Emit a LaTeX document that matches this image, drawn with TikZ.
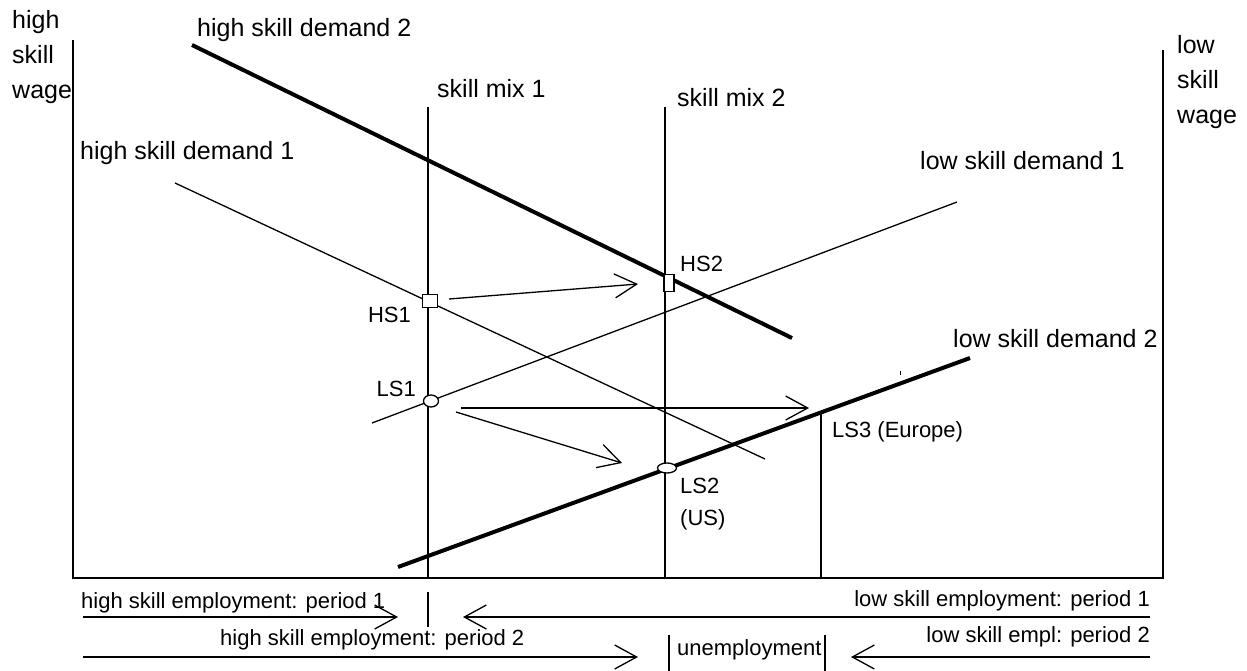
\documentclass[tikz,border=0pt]{standalone}
\usepackage{fontspec}
\setmainfont{Liberation Sans}
\usetikzlibrary{arrows.meta, shapes.geometric}

\begin{document}
\begin{tikzpicture}[x=1pt,y=-1pt,
  every node/.style={inner sep=0pt,anchor=base west,font=\fontsize{25}{35}\selectfont},
  small/.style={font=\fontsize{22}{32}\selectfont},
  axisline/.style={line width=1.5pt},
  thinline/.style={line width=1.3pt},
  thickline/.style={line width=4pt},
  barb/.style={line width=1.3pt,-{Straight Barb[length=22pt,width=24pt]}},
  boxmark/.style={draw,fill=white,line width=1.3pt,rectangle,anchor=center},
  ovalmark/.style={draw,fill=white,line width=1.3pt,ellipse,anchor=center}]
  \useasboundingbox (0,0) rectangle (1247,671);
  % axes
  \coordinate (ytop) at (73,40);
  \coordinate (o) at (73,578);
  \coordinate (xend) at (1163,578);
  \coordinate (ztop) at (1163,50);
  \draw[axisline] (ytop) -- (o) -- (xend) -- (ztop);
  \node[align=left,anchor=north west] (hwage) at (12,10) {high\\skill\\wage};
  \node[align=left,anchor=north west] (lwage) at (1177,35) {low\\skill\\wage};
  % skill mix lines
  \coordinate (m1top) at (428,107);
  \coordinate (m1bot) at (428,578);
  \coordinate (m2top) at (665,107);
  \coordinate (m2bot) at (665,578);
  \coordinate (ls3top) at (821,412);
  \coordinate (ls3bot) at (821,578);
  \draw[thinline] (m1top) -- (m1bot);
  \draw[thinline] (m2top) -- (m2bot);
  \draw[thinline] (ls3top) -- (ls3bot);
  \node (mix1) at (437,98) {skill mix 1};
  \node (mix2) at (677,107) {skill mix 2};
  % demand curves
  \coordinate (hd2a) at (192,45);
  \coordinate (hd2b) at (792,338);
  \coordinate (hd1a) at (175,183);
  \coordinate (hd1b) at (765,459);
  \coordinate (ld1a) at (372,423);
  \coordinate (ld1b) at (957,202);
  \coordinate (ld2a) at (398,567);
  \coordinate (ld2b) at (970,358);
  \draw[thickline] (hd2a) -- (hd2b);
  \draw[thinline] (hd1a) -- (hd1b);
  \draw[thinline] (ld1a) -- (ld1b);
  \draw[thickline] (ld2a) -- (ld2b);
  \coordinate (dota) at (900,371);
  \coordinate (dotb) at (900,375);
  \draw[line width=1pt] (dota) -- (dotb);
  \node (hdem2) at (197,37) {high skill demand 2};
  \node (hdem1) at (80,160) {high skill demand 1};
  \node (ldem1) at (920,170) {low skill demand 1};
  \node (ldem2) at (953,347) {low skill demand 2};
  % equilibrium points
  \node[boxmark,minimum width=15pt,minimum height=13pt] (hs1) at (430,301) {};
  \node[boxmark,minimum width=10pt,minimum height=17pt] (hs2) at (669,283) {};
  \node[ovalmark,minimum width=15pt,minimum height=12pt] (ls1) at (431,401) {};
  \node[ovalmark,minimum width=19pt,minimum height=10pt] (ls2) at (667,468) {};
  \node[small,anchor=base east] (hs1lab) at (411,322) {HS1};
  \node[small] (hs2lab) at (680,271) {HS2};
  \node[small,anchor=base east] (ls1lab) at (416,396) {LS1};
  \node[small,align=left,anchor=north west] (ls2lab) at (680,478) {LS2\\(US)};
  \node[small] (ls3lab) at (832,437) {LS3 (Europe)};
  % shifts
  \coordinate (a1s) at (449,299);
  \coordinate (a1e) at (638,284);
  \coordinate (a2s) at (461,408);
  \coordinate (a2e) at (809,408);
  \coordinate (a3s) at (456,412);
  \coordinate (a3e) at (622,463);
  \draw[barb] (a1s) -- (a1e);
  \draw[barb] (a2s) -- (a2e);
  \draw[barb] (a3s) -- (a3e);
  % employment bars below the axis
  \coordinate (r1l) at (83,617);
  \coordinate (r1m) at (398,617);
  \coordinate (r1n) at (463,617);
  \coordinate (r1r) at (1150,617);
  \coordinate (r2l) at (83,657);
  \coordinate (r2m) at (638,657);
  \coordinate (r2n) at (851,657);
  \coordinate (r2r) at (1150,657);
  \coordinate (ticka) at (428,592);
  \coordinate (tickb) at (428,627);
  \coordinate (u1a) at (669,635);
  \coordinate (u1b) at (669,671);
  \coordinate (u2a) at (825,635);
  \coordinate (u2b) at (825,671);
  \draw[barb] (r1l) -- (r1m);
  \draw[barb] (r1r) -- (r1n);
  \draw[barb] (r2l) -- (r2m);
  \draw[barb] (r2r) -- (r2n);
  \draw[thinline] (ticka) -- (tickb);
  \draw[thinline] (u1a) -- (u1b);
  \draw[thinline] (u2a) -- (u2b);
  \node[small] (he1) at (81,608) {high skill employment: period 1};
  \node[small] (he2) at (220,645) {high skill employment: period 2};
  \node[small,anchor=base east] (le1) at (1150,606) {low skill employment: period 1};
  \node[small,anchor=base east] (le2) at (1150,642) {low skill empl: period 2};
  \node[small] (unemp) at (677,655) {unemployment};
\end{tikzpicture}
\end{document}
